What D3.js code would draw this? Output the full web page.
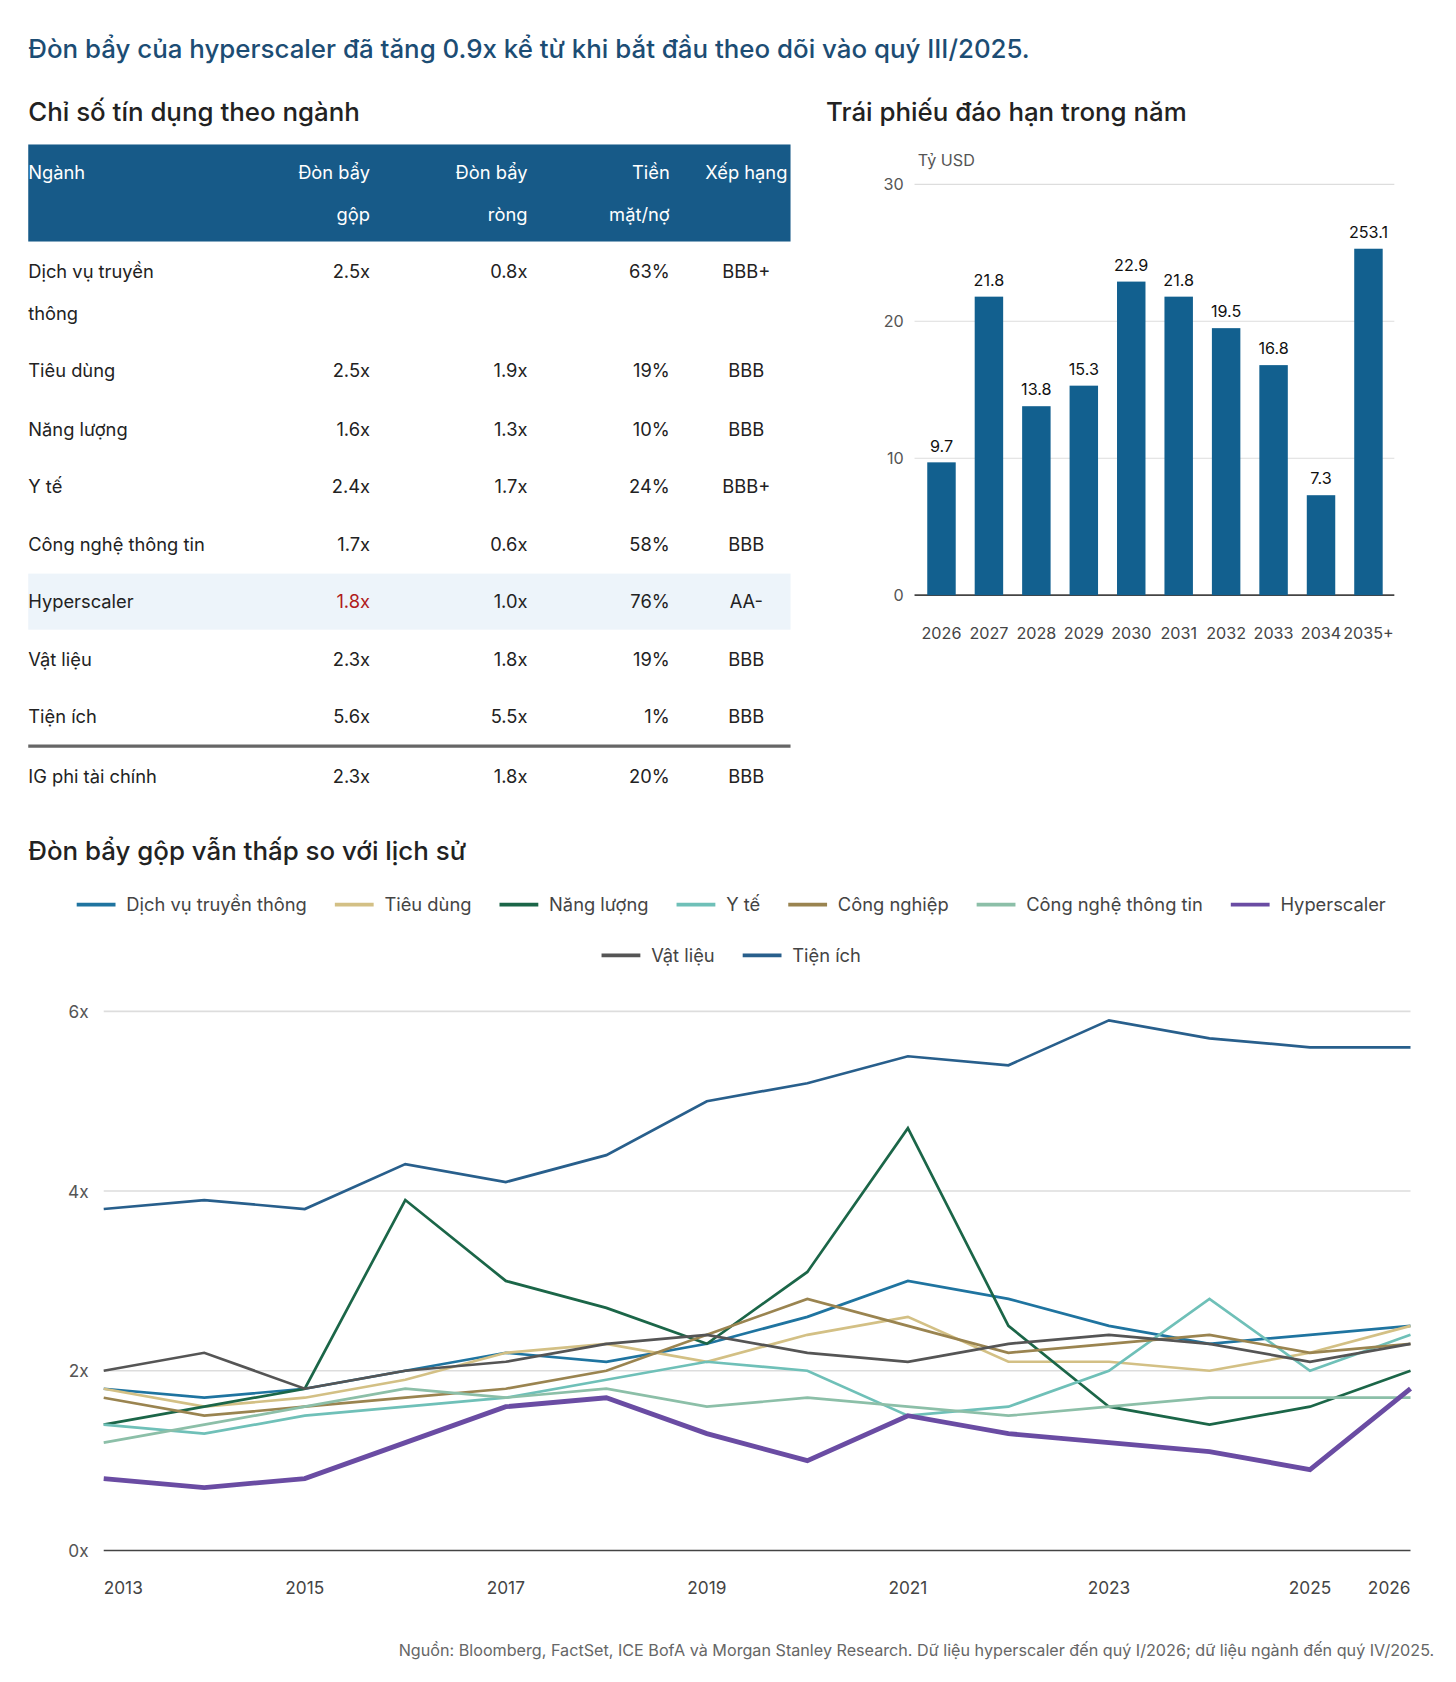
<!DOCTYPE html>
<html><head><meta charset="utf-8">
<script src="https://cdn.jsdelivr.net/npm/d3@7"></script>
<style>
body{margin:0;background:#fff;font-family:Inter,"Noto Sans",sans-serif;}
text{font-family:Inter,"Noto Sans",sans-serif;}
</style></head><body>
<svg id="c" width="1456" height="1682" viewBox="0 0 1350 1560"></svg>
<script>
// table data
const sectors = [["Dịch vụ truyền", "thông"], ["Tiêu dùng"], ["Năng lượng"], ["Y tế"], ["Công nghệ thông tin"], ["Hyperscaler"], ["Vật liệu"], ["Tiện ích"], ["IG phi tài chính"]];
const grossLev = ["2.5x", "2.5x", "1.6x", "2.4x", "1.7x", "1.8x", "2.3x", "5.6x", "2.3x"];
const netLev = ["0.8x", "1.9x", "1.3x", "1.7x", "0.6x", "1.0x", "1.8x", "5.5x", "1.8x"];
const cashDebt = ["63%", "19%", "10%", "24%", "58%", "76%", "19%", "1%", "20%"];
const ratings = ["BBB+", "BBB", "BBB", "BBB+", "BBB", "AA-", "BBB", "BBB", "BBB"];

// bond maturities
const matYears = ["2026", "2027", "2028", "2029", "2030", "2031", "2032", "2033", "2034", "2035+"];
const matValues = [9.7, 21.8, 13.8, 15.3, 22.9, 21.8, 19.5, 16.8, 7.3, 25.3];
const matLabels = ["9.7", "21.8", "13.8", "15.3", "22.9", "21.8", "19.5", "16.8", "7.3", "253.1"];

// leverage history
const years = [2013, 2014, 2015, 2016, 2017, 2018, 2019, 2020, 2021, 2022, 2023, 2024, 2025, 2026];
const yearTicks = [2013, 2015, 2017, 2019, 2021, 2023, 2025, 2026];
const seriesNames = ["Dịch vụ truyền thông", "Tiêu dùng", "Năng lượng", "Y tế", "Công nghiệp", "Công nghệ thông tin", "Hyperscaler", "Vật liệu", "Tiện ích"];
const commServ = [1.8, 1.7, 1.8, 2.0, 2.2, 2.1, 2.3, 2.6, 3.0, 2.8, 2.5, 2.3, 2.4, 2.5];
const consumer = [1.8, 1.6, 1.7, 1.9, 2.2, 2.3, 2.1, 2.4, 2.6, 2.1, 2.1, 2.0, 2.2, 2.5];
const energy = [1.4, 1.6, 1.8, 3.9, 3.0, 2.7, 2.3, 3.1, 4.7, 2.5, 1.6, 1.4, 1.6, 2.0];
const health = [1.4, 1.3, 1.5, 1.6, 1.7, 1.9, 2.1, 2.0, 1.5, 1.6, 2.0, 2.8, 2.0, 2.4];
const industrial = [1.7, 1.5, 1.6, 1.7, 1.8, 2.0, 2.4, 2.8, 2.5, 2.2, 2.3, 2.4, 2.2, 2.3];
const tech = [1.2, 1.4, 1.6, 1.8, 1.7, 1.8, 1.6, 1.7, 1.6, 1.5, 1.6, 1.7, 1.7, 1.7];
const hyper = [0.8, 0.7, 0.8, 1.2, 1.6, 1.7, 1.3, 1.0, 1.5, 1.3, 1.2, 1.1, 0.9, 1.8];
const materials = [2.0, 2.2, 1.8, 2.0, 2.1, 2.3, 2.4, 2.2, 2.1, 2.3, 2.4, 2.3, 2.1, 2.3];
const utilities = [3.8, 3.9, 3.8, 4.3, 4.1, 4.4, 5.0, 5.2, 5.5, 5.4, 5.9, 5.7, 5.6, 5.6];
const seriesValues = [commServ, consumer, energy, health, industrial, tech, hyper, materials, utilities];
const colors = ["#1f74a0", "#d3c085", "#1b6648", "#6fc0b8", "#9a8450", "#8cbfa8", "#6a4ca3", "#555", "#285f8c"];

const svg = d3.select("#c");
svg.append("text").attr("x", 26).attr("y", 54).attr("font-size", 24).attr("fill", "#1c4d74").attr("font-weight", 500)
  .text("Đòn bẩy của hyperscaler đã tăng 0.9x kể từ khi bắt đầu theo dõi vào quý III/2025.");

// ---- table
svg.append("text").attr("x", 26).attr("y", 112).attr("font-size", 24).attr("fill", "#222").attr("font-weight", 500).text("Chỉ số tín dụng theo ngành");
const tb = svg.append("g");
tb.append("rect").attr("x", 26).attr("y", 134).attr("width", 707).attr("height", 90).attr("fill", "#175a88");
const cols = [
  {x: 26, a: "start", h: ["Ngành", ""]},
  {x: 343, a: "end", h: ["Đòn bẩy", "gộp"]},
  {x: 489, a: "end", h: ["Đòn bẩy", "ròng"]},
  {x: 621, a: "end", h: ["Tiền", "mặt/nợ"]},
  {x: 692, a: "middle", h: ["Xếp hạng", ""]}
];
cols.forEach(c => c.h.forEach((t, i) => tb.append("text").attr("x", c.x).attr("y", 166 + i * 39)
  .attr("text-anchor", c.a).attr("font-size", 17).attr("fill", "#fff").text(t)));
const rowY = [252, 344, 398, 451, 505, 558, 612, 665, 720];
tb.append("rect").attr("x", 26).attr("y", 532).attr("width", 707).attr("height", 52).attr("fill", "#edf4fa");
tb.append("line").attr("x1", 26).attr("x2", 733).attr("y1", 692).attr("y2", 692).attr("stroke", "#666").attr("stroke-width", 3);
sectors.forEach((s, i) => {
  const y = rowY[i] + 6;
  s.forEach((t, j) => tb.append("text").attr("x", 26).attr("y", y + j * 39).attr("font-size", 17).attr("fill", "#222").text(t));
  [grossLev, netLev, cashDebt, ratings].forEach((arr, k) => {
    const c = cols[k + 1];
    tb.append("text").attr("x", c.x).attr("y", y).attr("text-anchor", c.a).attr("font-size", 17)
      .attr("fill", (i === 5 && k === 0) ? "#b01c1c" : "#222").text(arr[i]);
  });
});

// ---- bars
svg.append("text").attr("x", 766).attr("y", 112).attr("font-size", 24).attr("fill", "#222").attr("font-weight", 500).text("Trái phiếu đáo hạn trong năm");
const bx = d3.scaleBand().domain(matYears).range([851, 1291]).paddingInner(0.4).paddingOuter(0.2);
const by = d3.scaleLinear().domain([0, 30]).range([552, 171]);
const bg = svg.append("g");
bg.append("text").attr("x", 851).attr("y", 154).attr("font-size", 15).attr("fill", "#555").text("Tỷ USD");
by.ticks(3).forEach(t => {
  bg.append("line").attr("x1", 848).attr("x2", 1293).attr("y1", by(t)).attr("y2", by(t))
    .attr("stroke", t === 0 ? "#444" : "#ddd").attr("stroke-width", t === 0 ? 1.5 : 1);
  bg.append("text").attr("x", 838).attr("y", by(t) + 5).attr("text-anchor", "end").attr("font-size", 15).attr("fill", "#555").text(t);
});
bg.selectAll(".b").data(matValues).join("rect").attr("x", (d, i) => bx(matYears[i])).attr("width", bx.bandwidth())
  .attr("y", d => by(d)).attr("height", d => by(0) - by(d)).attr("fill", "#12608f");
bg.selectAll(".bl").data(matValues).join("text").attr("x", (d, i) => bx(matYears[i]) + bx.bandwidth() / 2)
  .attr("y", d => by(d) - 10).attr("text-anchor", "middle").attr("font-size", 15).attr("fill", "#111").text((d, i) => matLabels[i]);
matYears.forEach(y => bg.append("text").attr("x", bx(y) + bx.bandwidth() / 2).attr("y", 593).attr("text-anchor", "middle")
  .attr("font-size", 15).attr("fill", "#444").text(y));

// ---- lines
svg.append("text").attr("x", 26).attr("y", 798).attr("font-size", 24).attr("fill", "#222").attr("font-weight", 500).text("Đòn bẩy gộp vẫn thấp so với lịch sử");
const lx = d3.scaleLinear().domain([2013, 2026]).range([96, 1308]);
const ly = d3.scaleLinear().domain([0, 6]).range([1438, 938]);
const lg = svg.append("g");
[0, 2, 4, 6].forEach(t => {
  lg.append("line").attr("x1", 96).attr("x2", 1308).attr("y1", ly(t)).attr("y2", ly(t))
    .attr("stroke", t === 0 ? "#444" : "#ddd").attr("stroke-width", t === 0 ? 1.5 : 1.5);
  lg.append("text").attr("x", 82).attr("y", ly(t) + 6).attr("text-anchor", "end").attr("font-size", 16).attr("fill", "#555").text(t + "x");
});
yearTicks.forEach(y => lg.append("text").attr("x", lx(y)).attr("y", 1478)
  .attr("text-anchor", y === 2013 ? "start" : (y === 2026 ? "end" : "middle")).attr("font-size", 16).attr("fill", "#444").text(y));
const line = d3.line().x((d, i) => lx(years[i])).y(d => ly(d));
seriesValues.forEach((vals, k) => {
  if (k === 6) return;
  lg.append("path").attr("d", line(vals)).attr("fill", "none").attr("stroke", colors[k]).attr("stroke-width", 2.5);
});
lg.append("path").attr("d", line(hyper)).attr("fill", "none").attr("stroke", colors[6]).attr("stroke-width", 4.5);

// legend
const rows = [seriesNames.slice(0, 7), seriesNames.slice(7)];
rows.forEach((names, r) => {
  const g = svg.append("g");
  let x = 0;
  names.forEach(n => {
    const k = seriesNames.indexOf(n);
    g.append("line").attr("x1", x).attr("x2", x + 36).attr("y1", 0).attr("y2", 0).attr("stroke", colors[k]).attr("stroke-width", 3.5);
    const t = g.append("text").attr("x", x + 46).attr("y", 6).attr("font-size", 17).attr("fill", "#444").text(n);
    x += 46 + t.node().getComputedTextLength() + 26;
  });
  x -= 26;
  g.attr("transform", `translate(${678 - x / 2},${839 + r * 47})`);
});

svg.append("text").attr("x", 1330).attr("y", 1536).attr("text-anchor", "end").attr("font-size", 15).attr("fill", "#666")
  .text("Nguồn: Bloomberg, FactSet, ICE BofA và Morgan Stanley Research. Dữ liệu hyperscaler đến quý I/2026; dữ liệu ngành đến quý IV/2025.");
</script></body></html>
